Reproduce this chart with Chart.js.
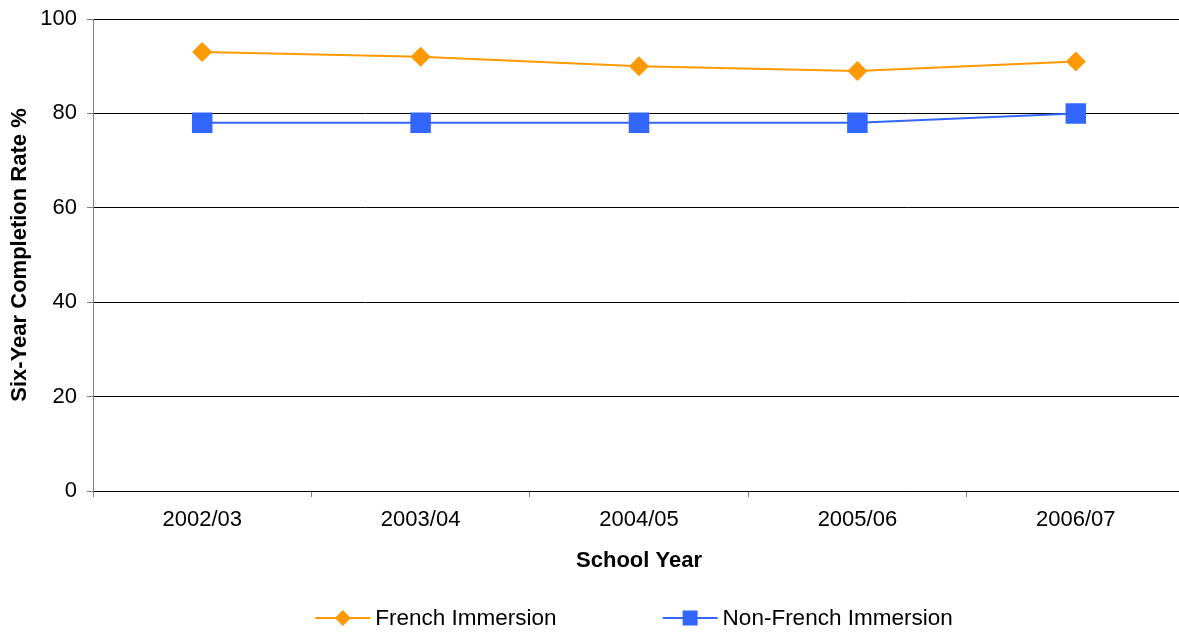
<!DOCTYPE html>
<html>
<head>
<meta charset="utf-8">
<title>Six-Year Completion Rate</title>
<script src="https://cdn.jsdelivr.net/npm/chart.js@4/dist/chart.umd.min.js"></script>
<style>
  html, body { margin: 0; padding: 0; background: #fff; overflow: hidden; }
  #completionChart { display: block; }
</style>
</head>
<body>
<canvas id="completionChart" width="1179" height="633"></canvas>
<script>
// School years on the x axis
const schoolYears = ['2002/03', '2003/04', '2004/05', '2005/06', '2006/07'];

// Six-year completion rates (%)
const frenchImmersion = [93, 92, 90, 89, 91];
const nonFrenchImmersion = [78, 78, 78, 78, 80];

// Y axis range
const yMin = 0;
const yMax = 100;
const yStep = 20;

const FONT = '"Liberation Sans", Arial, Helvetica, sans-serif';
const ORANGE = '#FF9900';
const BLUE = '#3366FF';

// Let the plot run a few pixels past the right edge of the canvas
const extendRight = {
  id: 'extendRight',
  afterLayout(chart) {
    const x = chart.scales.x;
    x.right += 6;
    x.width += 6;
    chart.chartArea.right += 6;
    chart.chartArea.width += 6;
    x.configure();
  }
};

// Legend drawn as a short line with the series marker in the middle
const lineLegend = {
  id: 'lineLegend',
  afterDraw(chart) {
    const { ctx, chartArea } = chart;
    ctx.save();
    ctx.font = '22.5px ' + FONT;
    const items = chart.data.datasets.map(ds => ({ ds, w: 60 + ctx.measureText(ds.label).width }));
    const gap = 106;
    const total = items.reduce((s, it) => s + it.w, 0) + gap * (items.length - 1);
    let x = (chartArea.left + chartArea.right) / 2 - 5 - total / 2;
    const y = 618;
    items.forEach(({ ds, w }) => {
      ctx.strokeStyle = ds.borderColor;
      ctx.fillStyle = ds.borderColor;
      ctx.lineWidth = 2;
      ctx.beginPath();
      ctx.moveTo(x, y);
      ctx.lineTo(x + 55, y);
      ctx.stroke();
      const cx = x + 27.5;
      if (ds.pointStyle === 'rectRot') {
        ctx.beginPath();
        ctx.moveTo(cx - 8, y);
        ctx.lineTo(cx, y - 8);
        ctx.lineTo(cx + 8, y);
        ctx.lineTo(cx, y + 8);
        ctx.closePath();
        ctx.fill();
      } else {
        ctx.fillRect(cx - 7.5, y - 7.5, 15, 15);
      }
      ctx.fillStyle = '#000';
      ctx.textBaseline = 'middle';
      ctx.textAlign = 'left';
      ctx.fillText(ds.label, x + 60, y + 1);
      x += w + gap;
    });
    ctx.restore();
  }
};

const ctx = document.getElementById('completionChart').getContext('2d');

new Chart(ctx, {
  type: 'line',
  data: {
    labels: schoolYears,
    datasets: [
      {
        label: 'French Immersion',
        data: frenchImmersion,
        borderColor: ORANGE,
        backgroundColor: ORANGE,
        borderWidth: 2,
        pointStyle: 'rectRot',
        pointRadius: 10,
        pointHoverRadius: 10,
        pointBorderWidth: 0,
        tension: 0
      },
      {
        label: 'Non-French Immersion',
        data: nonFrenchImmersion,
        borderColor: BLUE,
        backgroundColor: BLUE,
        borderWidth: 2,
        pointStyle: 'rect',
        pointRadius: 14.5,
        pointHoverRadius: 14.5,
        pointBorderWidth: 0,
        tension: 0
      }
    ]
  },
  options: {
    responsive: false,
    animation: false,
    layout: {
      autoPadding: false,
      padding: { top: 19, right: 0, bottom: 59, left: 0 }
    },
    plugins: {
      legend: { display: false },
      tooltip: { enabled: false }
    },
    scales: {
      x: {
        offset: true,
        grid: {
          offset: true,
          drawOnChartArea: false,
          tickLength: 6,
          color: '#808080'
        },
        border: { color: '#000', width: 1 },
        ticks: {
          color: '#000',
          padding: 10,
          maxRotation: 0,
          font: { family: FONT, size: 22 }
        },
        title: {
          display: true,
          text: 'School Year',
          color: '#000',
          padding: { top: 0, bottom: 0 },
          font: { family: FONT, size: 22, weight: 'bold' }
        },
        afterFit(scale) {
          scale.height = 83;
          scale.paddingLeft = 0;
          scale.paddingRight = 0;
        }
      },
      y: {
        min: yMin,
        max: yMax,
        grid: {
          color: '#000',
          tickLength: 6,
          tickColor: '#808080'
        },
        border: { color: '#808080', width: 1 },
        ticks: {
          stepSize: yStep,
          color: '#000',
          padding: 10,
          font: { family: FONT, size: 22 }
        },
        title: {
          display: true,
          text: 'Six-Year Completion Rate %',
          color: '#000',
          padding: { top: 7, bottom: 0 },
          font: { family: FONT, size: 22, weight: 'bold' }
        },
        afterFit(scale) {
          scale.width = 93;
          scale.paddingTop = 0;
          scale.paddingBottom = 0;
        }
      }
    }
  },
  plugins: [extendRight, lineLegend]
});
</script>
</body>
</html>
